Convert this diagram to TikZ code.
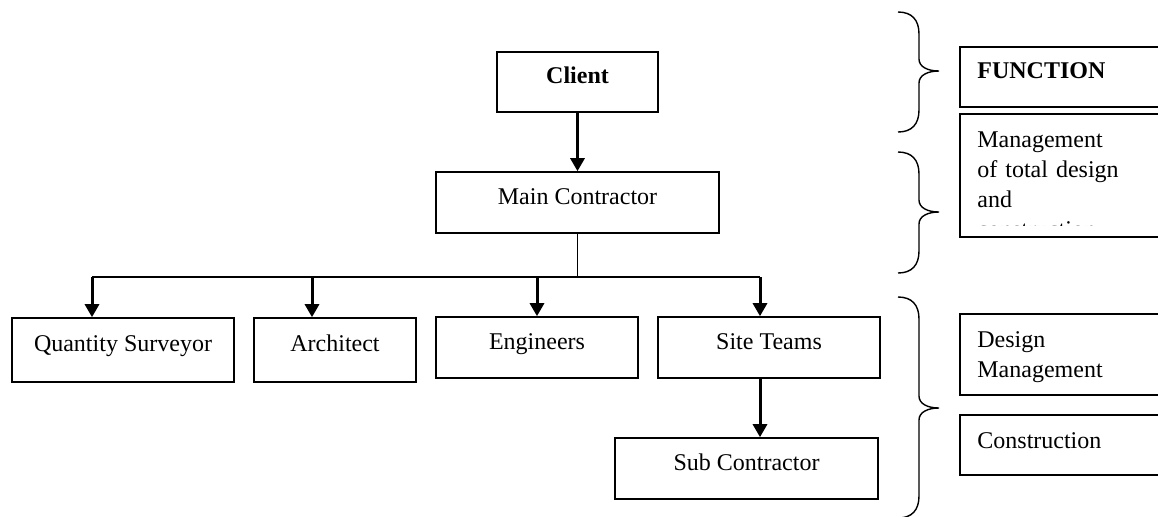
\documentclass[tikz,border=0pt]{standalone}
\usepackage{fontspec}
\setmainfont{Liberation Serif}
\usetikzlibrary{positioning, arrows.meta}

\begin{document}
\begin{tikzpicture}[x=0.5pt, y=-0.5pt, font=\fontsize{12pt}{15pt}\selectfont,
		box/.style={draw, line width=0.8pt, inner sep=0pt, text height=9pt, text depth=7.5pt},
		sidebox/.style={draw, line width=0.8pt, inner sep=0pt, anchor=north west, minimum width=130pt},
		sidetext/.style={anchor=base west, inner sep=0pt, text width=100pt, align=left},
		arr/.style={-{Triangle[length=6.5pt, width=7pt]}, line width=1.5pt},
		bracket/.style={line width=0.7pt}]
				\useasboundingbox (0,0) rectangle (1158,516);
				\clip (0,0) rectangle (1158,516);
				\node[box, minimum width=80.5pt, minimum height=30pt] (client) at (577.5,82) {\textbf{Client}};
				\node[box, minimum width=141.5pt, minimum height=30.5pt] (main) at (577.5,202.5) {Main Contractor};
				\node[box, minimum width=111pt, minimum height=32pt] (qs) at (123,350) {Quantity Surveyor};
				\node[box, minimum width=81pt, minimum height=32pt] (arch) at (335,350) {Architect};
				\node[box, minimum width=101pt, minimum height=30.5pt] (eng) at (537,347.5) {Engineers};
				\node[box, minimum width=111pt, minimum height=30.5pt] (site) at (769,347.5) {Site Teams};
				\node[box, minimum width=131.5pt, minimum height=30.5pt] (sub) at (746.5,468.5) {Sub Contractor};
				\coordinate (dropqs) at (92,277);
				\coordinate (droparch) at (312,277);
				\coordinate (dropeng) at (537,277);
				\coordinate (dropsite) at (760,277);
				\draw[arr] (client) -- (main);
				\draw[line width=0.8pt] (main.south) -- (main.south |- dropqs);
				\draw[line width=0.8pt] (dropqs) -- (dropsite);
				\draw[arr] (dropqs) -- (dropqs |- qs.north);
				\draw[arr] (droparch) -- (droparch |- arch.north);
				\draw[arr] (dropeng) -- (dropeng |- eng.north);
				\draw[arr] (dropsite) -- (dropsite |- site.north);
				\draw[arr] (dropsite |- site.south) -- (dropsite |- sub.north);
				\node[sidebox, minimum height=30pt] (func) at (959,46) {};
				\node[sidetext] (functext) at (977,78) {\textbf{FUNCTION}};
				\node[sidebox, minimum height=61.5pt] (manage) at (959,113) {};
				\begin{scope}
					\clip (959,113) rectangle (1158,225);
					\node[sidetext] (managetext) at (977,147) {Management\\ of total design\\ and\\ construction};
				\end{scope}
				\node[sidebox, minimum height=40.5pt] (design) at (959,313) {};
				\node[sidetext] (designtext) at (977,347) {Design\\ Management};
				\node[sidebox, minimum height=30pt] (constr) at (959,414) {};
				\node[sidetext] (constrtext) at (977,448) {Construction};
				\draw[bracket] (898,12) .. controls (912,12) and (919,20) .. (919,34) -- (919,59)
					.. controls (919,67) and (928,71) .. (939,71) .. controls (928,71) and (919,75) .. (919,83)
					-- (919,110) .. controls (919,124) and (912,132) .. (898,132);
				\draw[bracket] (898,152) .. controls (912,152) and (919,160) .. (919,174) -- (919,200)
					.. controls (919,208) and (928,212) .. (939,212) .. controls (928,212) and (919,216) .. (919,224)
					-- (919,251) .. controls (919,265) and (912,273) .. (898,273);
				\draw[bracket] (898,297) .. controls (912,297) and (919,305) .. (919,319) -- (919,396)
					.. controls (919,404) and (928,408) .. (939,408) .. controls (928,408) and (919,412) .. (919,420)
					-- (919,496) .. controls (919,510) and (912,518) .. (898,518);
			\end{tikzpicture}
\end{document}
